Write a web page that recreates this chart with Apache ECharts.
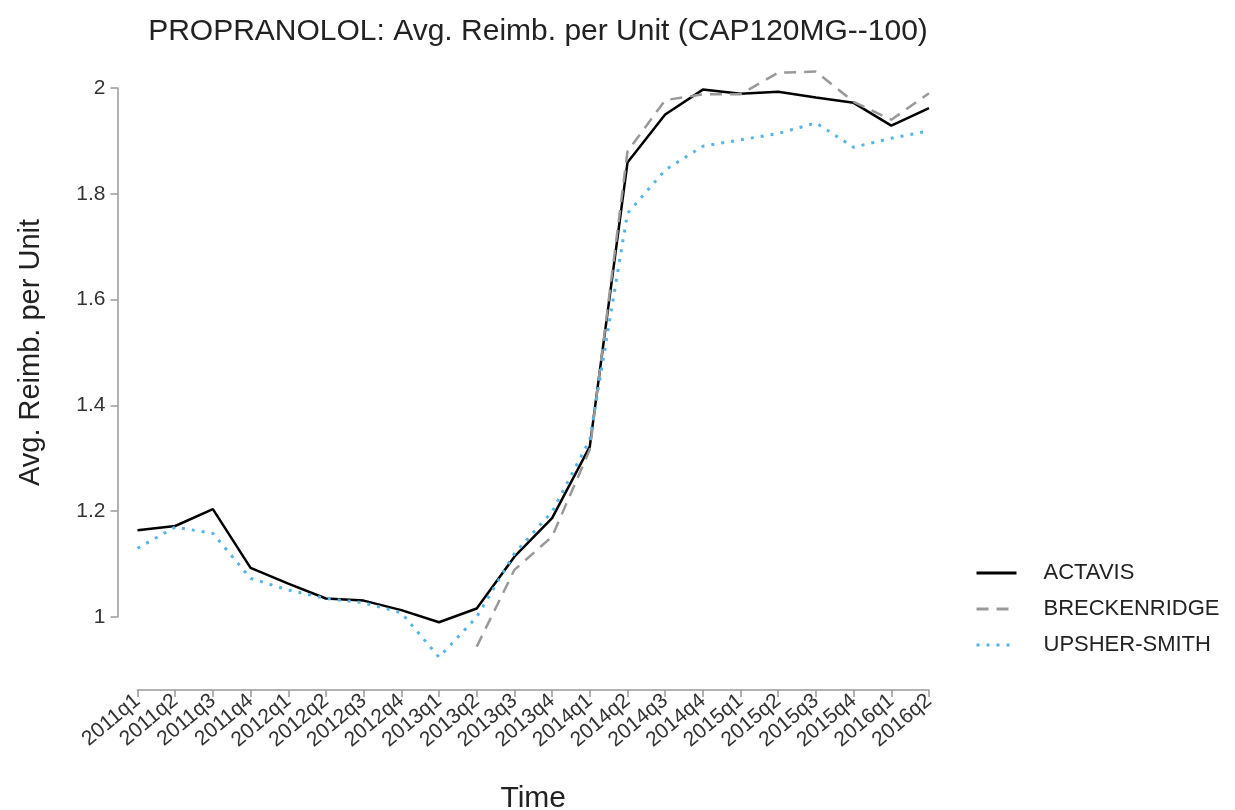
<!DOCTYPE html>
<html>
<head>
<meta charset="utf-8">
<script src="https://cdn.jsdelivr.net/npm/echarts@6/dist/echarts.min.js"></script>
<style>
html, body { margin: 0; padding: 0; background: #fff; }
#main { width: 1235px; height: 810px; }
</style>
</head>
<body>
<div id="main"></div>
<script>
// 季度
var quarters = ['2011q1','2011q2','2011q3','2011q4','2012q1','2012q2','2012q3','2012q4',
    '2013q1','2013q2','2013q3','2013q4','2014q1','2014q2','2014q3','2014q4',
    '2015q1','2015q2','2015q3','2015q4','2016q1','2016q2'];

var actavis = [1.164, 1.172, 1.204, 1.093, 1.063, 1.035, 1.031, 1.013,
    0.990, 1.016, 1.114, 1.187, 1.322, 1.859, 1.950, 1.997,
    1.989, 1.993, 1.982, 1.972, 1.929, 1.962];

var breckenridge = [null, null, null, null, null, null, null, null,
    null, 0.944, 1.089, 1.152, 1.316, 1.880, 1.977, 1.988,
    1.988, 2.029, 2.031, 1.974, 1.940, 1.990];

var upsherSmith = [1.130, 1.170, 1.158, 1.073, 1.051, 1.035, 1.027, 1.008,
    0.924, 1.000, 1.120, 1.199, 1.335, 1.763, 1.845, 1.890,
    1.902, 1.914, 1.934, 1.888, 1.905, 1.919];

var yTicks = [1, 1.2, 1.4, 1.6, 1.8, 2];

var chart = echarts.init(document.getElementById('main'));
var font = 'Liberation Sans, Arial, sans-serif';

var option = {
    backgroundColor: '#fff',
    animation: false,
    title: {
        text: 'PROPRANOLOL: Avg. Reimb. per Unit (CAP120MG--100)',
        left: 533,
        textAlign: 'center',
        top: 12,
        textStyle: { fontFamily: font, fontSize: 30, fontWeight: 'normal', color: '#222' }
    },
    legend: {
        orient: 'vertical',
        left: 970,
        top: 556,
        itemWidth: 40,
        itemHeight: 14,
        itemGap: 12,
        itemStyle: { opacity: 0 },
        lineStyle: { width: 3 },
        textStyle: { fontFamily: font, fontSize: 22, lineHeight: 24, color: '#222', padding: [0, 0, 0, 22] },
        data: ['ACTAVIS', 'BRECKENRIDGE', 'UPSHER-SMITH']
    },
    grid: { left: 137.5, right: 306, top: 88, bottom: 193, outerBoundsMode: 'none', containLabel: false },
    xAxis: {
        type: 'category',
        data: quarters,
        boundaryGap: false,
        offset: 73,
        name: 'Time',
        nameLocation: 'middle',
        nameGap: 94,
        nameTextStyle: { fontFamily: font, fontSize: 30, color: '#222' },
        axisLine: { lineStyle: { color: '#999', width: 1.5 } },
        axisTick: { length: 7, alignWithLabel: true, lineStyle: { color: '#999', width: 1.5 } },
        axisLabel: { rotate: 40, interval: 0, margin: 8, fontFamily: font, fontSize: 21, color: '#333' },
        splitLine: { show: false }
    },
    yAxis: {
        type: 'value',
        min: 1,
        max: 2,
        interval: 0.2,
        offset: 20,
        name: 'Avg. Reimb. per Unit',
        nameLocation: 'middle',
        nameGap: 72,
        nameTextStyle: { fontFamily: font, fontSize: 29, color: '#222' },
        axisLine: { show: true, lineStyle: { color: '#999', width: 1.5 } },
        axisTick: { show: true, length: 7, lineStyle: { color: '#999', width: 1.5 } },
        axisLabel: {
            margin: 12, fontFamily: font, fontSize: 21, color: '#333',
            formatter: function (v) {
                var hit = yTicks.find(function (t) { return Math.abs(t - v) < 1e-6; });
                return hit === undefined ? '' : String(hit);
            }
        },
        splitLine: { show: false }
    },
    series: [
        {
            name: 'ACTAVIS', type: 'line', data: actavis, symbol: 'none', clip: false,
            lineStyle: { color: '#000', width: 2.5 }, itemStyle: { color: '#000' }
        },
        {
            name: 'BRECKENRIDGE', type: 'line', data: breckenridge, symbol: 'none', clip: false,
            lineStyle: { color: '#999', width: 2.5, type: [12, 8] }, itemStyle: { color: '#999' }
        },
        {
            name: 'UPSHER-SMITH', type: 'line', data: upsherSmith, symbol: 'none', clip: false,
            lineStyle: { color: '#56B4E9', width: 3, type: [3, 7] }, itemStyle: { color: '#56B4E9' }
        }
    ]
};
chart.setOption(option);
window.addEventListener('resize', function () { chart.resize(); });
</script>
</body>
</html>
